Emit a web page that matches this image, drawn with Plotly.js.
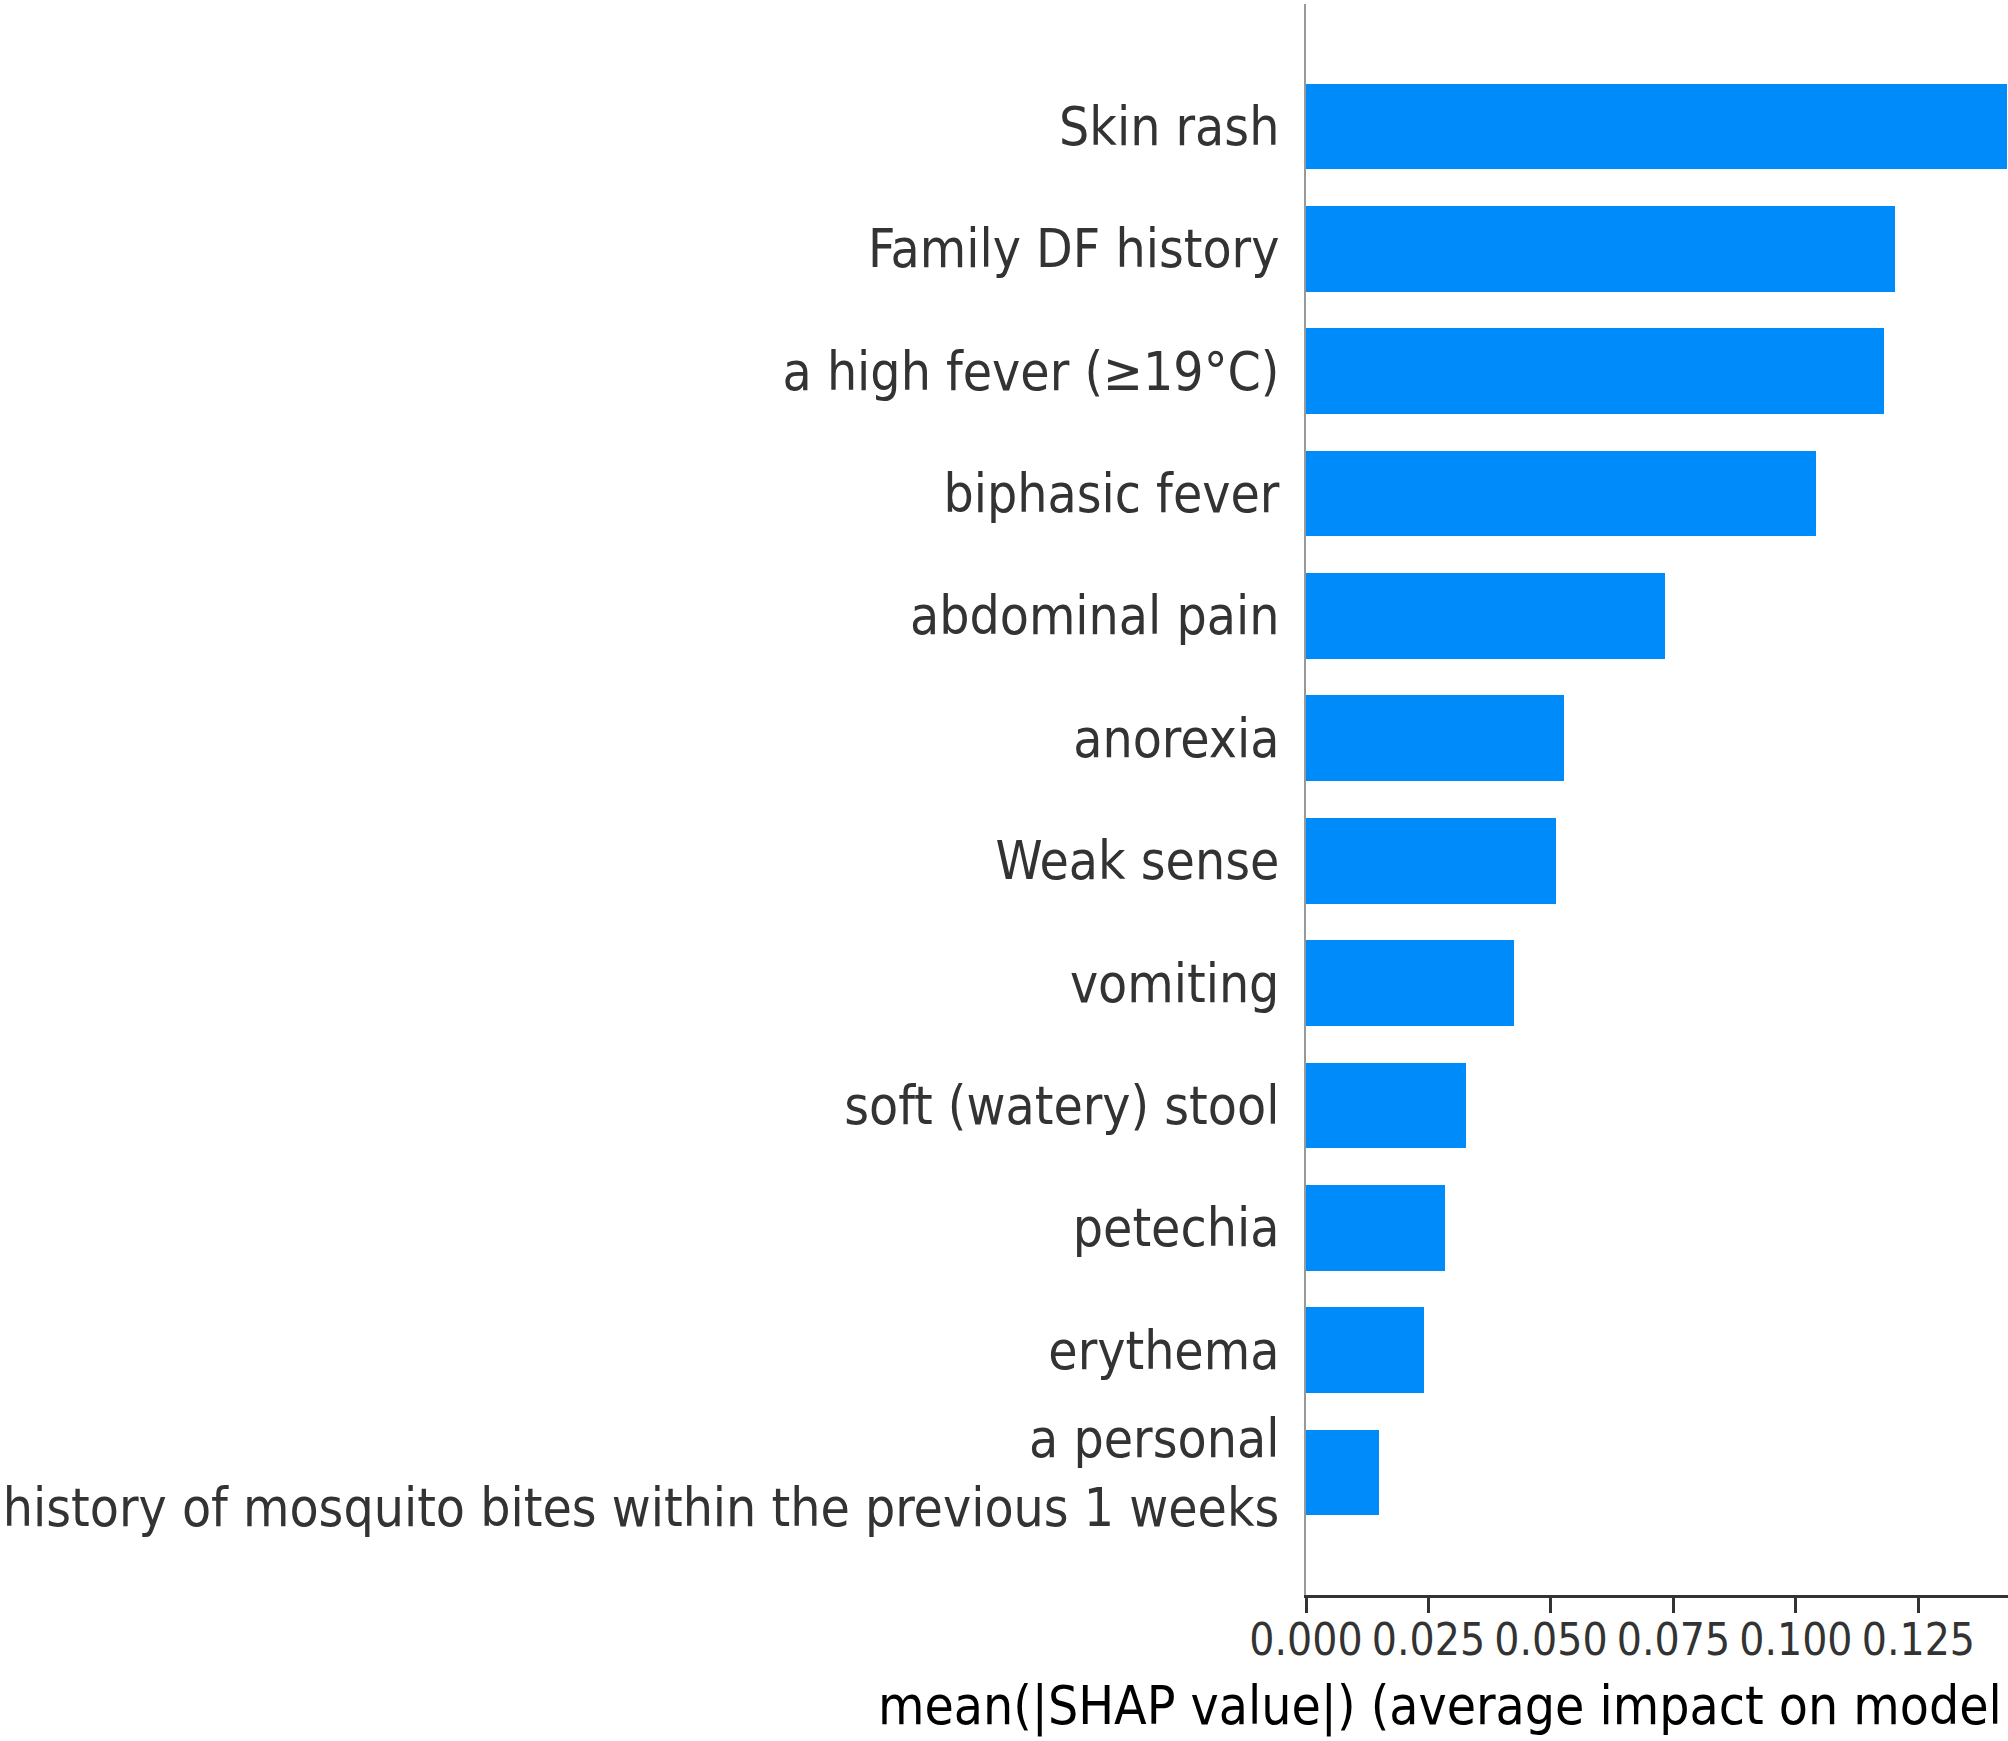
<!DOCTYPE html>
<html>
<head>
<meta charset="utf-8">
<title>mean(|SHAP value|)</title>
<script src="https://cdn.plot.ly/plotly-3.0.1.min.js"></script>
<style>
  html, body { margin: 0; padding: 0; background: #fff; overflow: hidden; }
  #chart { width: 2008px; height: 1741px; }
</style>
</head>
<body>
<div id="chart"></div>
<script>
/* SHAP 特徵重要度橫條圖：由下而上排列，最重要者在最上方 */
var features = [
  "a personal<br>history of mosquito bites within the previous 1 weeks",
  "erythema",
  "petechia",
  "soft (watery) stool",
  "vomiting",
  "Weak sense",
  "anorexia",
  "abdominal pain",
  "biphasic fever",
  "a high fever (≥19°C)",
  "Family DF history",
  "Skin rash"
];
var meanAbsShap = [0.0149, 0.0241, 0.0284, 0.0327, 0.0424, 0.0511, 0.0527, 0.0732, 0.1041, 0.1180, 0.1202, 0.1430];
var xTicks = [0, 0.025, 0.05, 0.075, 0.1, 0.125];
var xLabel = "mean(|SHAP value|) (average impact on model";

(function () {
  "use strict";
  var FONT = "'DejaVu Sans Condensed', 'DejaVu Sans', sans-serif";
  var BLUE = "#008bfb", FG = "#333333";

  var trace = {
    type: "bar", orientation: "h",
    x: meanAbsShap, y: features,
    width: 0.7,
    marker: { color: BLUE, line: { width: 0 } },
    hoverinfo: "x+y"
  };

  var layout = {
    width: 2008, height: 1741,
    margin: { l: 1306, r: 0, t: 4, b: 146, autoexpand: false },
    paper_bgcolor: "#fff", plot_bgcolor: "#fff",
    font: { family: FONT, color: FG },
    showlegend: false, bargap: 0,
    xaxis: {
      range: [0, 0.1433], autorange: false,
      tickmode: "array", tickvals: xTicks, tickformat: ".3f",
      ticks: "outside", ticklen: 15, tickwidth: 3, tickcolor: FG,
      showline: true, linecolor: FG, linewidth: 3,
      showgrid: false, zeroline: false, ticklabelstandoff: -11,
      tickfont: { family: FONT, size: 44, color: FG }
    },
    yaxis: {
      type: "category", categoryorder: "array", categoryarray: features,
      range: [-1, 12], autorange: false,
      ticks: "", showline: true, linecolor: "#999", linewidth: 2,
      showgrid: false, zeroline: false, ticklabelstandoff: 14,
      tickfont: { family: FONT, size: 53, color: FG }
    },
    annotations: [{
      text: xLabel, xref: "paper", yref: "paper", x: 1, y: 0,
      xanchor: "right", yanchor: "middle", xshift: -4, yshift: -111,
      showarrow: false, font: { family: FONT, size: 53, color: "#000" }
    }]
  };

  Plotly.newPlot("chart", [trace], layout, { displayModeBar: false, staticPlot: true });
})();
</script>
</body>
</html>
